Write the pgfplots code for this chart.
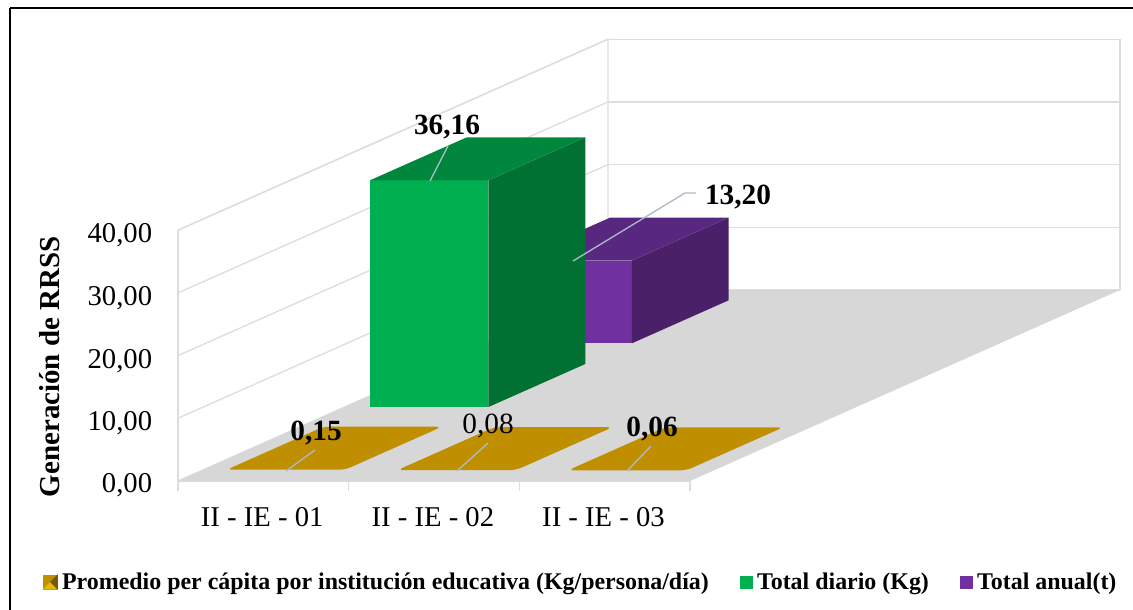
\documentclass[border=0pt]{standalone}
\usepackage{fontspec}
\setmainfont{Liberation Serif}
\usepackage{pgfplots}
\pgfplotsset{compat=1.18}
\definecolor{gr}{HTML}{DDDDDD}
\definecolor{floorc}{HTML}{D7D7D7}
\definecolor{leader}{HTML}{ADB9CA}
\definecolor{goldc}{HTML}{BF8F00}
\definecolor{gf}{HTML}{00B050}
\definecolor{gs}{HTML}{007033}
\definecolor{gt}{HTML}{00863D}
\definecolor{pf}{HTML}{7030A0}
\definecolor{ps}{HTML}{4A2068}
\definecolor{pt}{HTML}{582780}
\newcommand{\fnt}[1]{\fontsize{#1}{#1}\selectfont}
\begin{document}
\begin{tikzpicture}
\path[use as bounding box] (0,0) rectangle (849.75pt,-457.5pt);
\begin{axis}[
 anchor=origin, at={(133.5pt,-360.75pt)},
 x={(128pt,0pt)}, y={(107.5pt,47.75pt)}, z={(0pt,4.7025pt)},
 xmin=0,xmax=3,ymin=0,ymax=3,zmin=0,zmax=40,
 clip=false,
 axis x line*=bottom, axis y line=none, axis z line*=left,
 axis line style={draw=gr,line width=1pt},
 xtick={0,1,2,3}, x tick label as interval,
 xticklabels={II - IE - 01,II - IE - 02,II - IE - 03},
 ztick={0,10,20,30,40},
 zmajorgrids, grid style={draw=gr,line width=1pt},
 tick align=outside, major tick length=7.5pt,
 x tick style={draw=none},
 z tick style={draw=none},
 ymajorticks=false,
 ticklabel style={font=\fnt{21.5}},
 xticklabel style={xshift=13pt,yshift=-13.5pt},
 zticklabel style={xshift=-9pt,yshift=5pt},
 /pgf/number format/.cd, fixed, fixed zerofill, precision=2, use comma, assume math mode=true,
 /pgfplots/.cd,
 every axis z label/.style={at={(axis cs:-0.75,0,18.2)},rotate=90,anchor=center},
 zlabel={\textbf{Generación de RRSS}},
 label style={font=\fnt{21.7}},
 legend style={at={(axis cs:-0.791,0,-16.11)},anchor=west,draw=none,fill=none,
   legend columns=-1,font=\bfseries\fnt{17.94},inner sep=0pt,
   /tikz/every even column/.append style={column sep=21.5pt},
   /tikz/every odd column/.append style={column sep=1.25pt}},
 area legend,
]
% walls
\addplot3[forget plot,draw=gr,line width=1pt] coordinates {(0,0,0)(0,0,40)(0,3,40)(0,3,0)};
\addplot3[forget plot,draw=gr,line width=1pt] coordinates {(0,3,40)(3,3,40)(3,3,0)};
% floor
\addplot3[forget plot,draw=none,fill=floorc] coordinates {(0,0,0)(3,0,0)(3,3,0)(0,3,0)} \closedcycle;
% x tick marks
\addplot3[forget plot,draw=gr,line width=1pt] coordinates {(0,0,0)(0,0,-1.6)};
\addplot3[forget plot,draw=gr,line width=1pt] coordinates {(1,0,0)(1,0,-1.6)};
\addplot3[forget plot,draw=gr,line width=1pt] coordinates {(2,0,0)(2,0,-1.6)};
\addplot3[forget plot,draw=gr,line width=1pt] coordinates {(3,0,0)(3,0,-1.6)};
% gold
\addplot3[forget plot,draw=none,fill=goldc,rounded corners=4.5pt] coordinates {(0.149,0.162,0.15)(0.843,0.162,0.15)(0.843,0.838,0.15)(0.149,0.838,0.15)} -- cycle;
\addplot3[forget plot,draw=none,fill=goldc,rounded corners=4.5pt] coordinates {(1.149,0.162,0.08)(1.843,0.162,0.08)(1.843,0.838,0.08)(1.149,0.838,0.08)} -- cycle;
\addplot3[forget plot,draw=none,fill=goldc,rounded corners=4.5pt] coordinates {(2.149,0.162,0.06)(2.843,0.162,0.06)(2.843,0.838,0.06)(2.149,0.838,0.06)} -- cycle;
% purple
\addplot3[forget plot,draw=none,fill=pf] coordinates {(0.149,2.162,0)(0.843,2.162,0)(0.843,2.162,13.2)(0.149,2.162,13.2)} -- cycle;
\addplot3[forget plot,draw=none,fill=ps] coordinates {(0.843,2.162,0)(0.843,2.838,0)(0.843,2.838,13.2)(0.843,2.162,13.2)} -- cycle;
\addplot3[forget plot,draw=none,fill=pt] coordinates {(0.149,2.162,13.2)(0.843,2.162,13.2)(0.843,2.838,13.2)(0.149,2.838,13.2)} -- cycle;
% green
\addplot3[forget plot,draw=none,fill=gf] coordinates {(0.149,1.162,0)(0.843,1.162,0)(0.843,1.162,36.16)(0.149,1.162,36.16)} -- cycle;
\addplot3[forget plot,draw=none,fill=gs] coordinates {(0.843,1.162,0)(0.843,1.838,0)(0.843,1.838,36.16)(0.843,1.162,36.16)} -- cycle;
\addplot3[forget plot,draw=none,fill=gt] coordinates {(0.149,1.162,36.16)(0.843,1.162,36.16)(0.843,1.838,36.16)(0.149,1.838,36.16)} -- cycle;
% legend
\addlegendimage{legend image code/.code={
  \fill[goldc] (0pt,-5.25pt) rectangle (10.5pt,5.25pt);
  \fill[orange!40!yellow!90!black] (0pt,-5.25pt) -- (10.5pt,-5.25pt) -- (5.25pt,0pt) -- cycle;
  \fill[goldc!60!black] (10.5pt,-5.25pt) -- (10.5pt,5.25pt) -- (5.25pt,0pt) -- cycle;
}}
\addlegendentry{Promedio per cápita por institución educativa (Kg/persona/día)}
\addlegendimage{legend image code/.code={\fill[gf] (0pt,-4.5pt) rectangle (9pt,4.5pt);}}
\addlegendentry{Total diario (Kg)}
\addlegendimage{legend image code/.code={\fill[pf] (0pt,-4.5pt) rectangle (9pt,4.5pt);}}
\addlegendentry{Total anual(t)}
\end{axis}
\begin{scope}[x=0.75pt,y=-0.75pt]
\draw[black,line width=2pt] (10,8) -- (1133,8);
\draw[black,line width=2pt] (10,8) -- (10,610);
\draw[leader,line width=1pt] (430,181) -- (448,146);
\draw[leader,line width=1pt] (573,261) -- (685,193) -- (696,193);
\draw[leader,line width=1pt] (286,471) -- (315,450);
\draw[leader,line width=1pt] (457,471) -- (488,443);
\draw[leader,line width=1pt] (627,471) -- (651,446);
\node[font=\bfseries\fnt{22}] at (447,127) {36,16};
\node[font=\bfseries\fnt{22}] at (738,197) {13,20};
\node[font=\bfseries\fnt{22}] at (316,433) {0,15};
\node[font=\fnt{22}] at (488,426) {0,08};
\node[font=\bfseries\fnt{22}] at (652,429) {0,06};
\end{scope}
\end{tikzpicture}
\end{document}
